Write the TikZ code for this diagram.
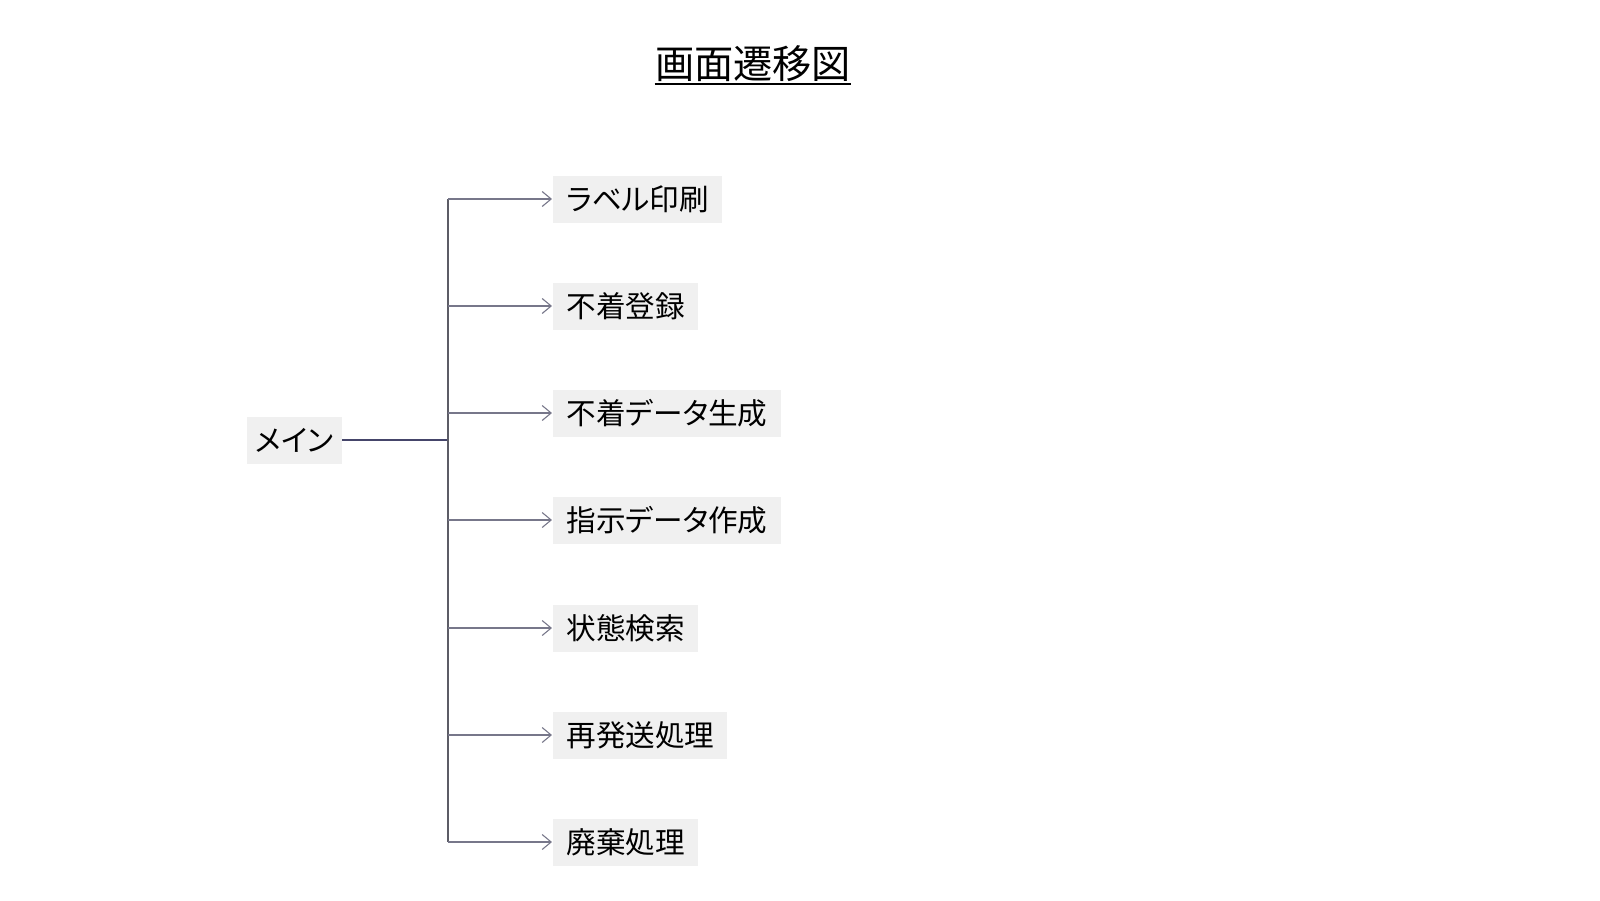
\documentclass[tikz,border=0pt]{standalone}
\usepackage{fontspec}
\setmainfont{Noto Sans CJK JP}[RawFeature=+palt]
\usetikzlibrary{arrows.meta}
\definecolor{boxgray}{HTML}{F0F0F0}
\definecolor{linkgray}{HTML}{77778A}
\definecolor{trunkgray}{HTML}{5C5C66}
\definecolor{mainline}{HTML}{45456A}
\begin{document}
\begin{tikzpicture}[x=0.5pt,y=-0.5pt,
  screen/.style={fill=boxgray, draw=none, inner xsep=6.5pt, inner ysep=0pt,
    minimum height=23.5pt, font=\fontsize{14.8pt}{16pt}\selectfont, text=black},
  link/.style={draw=linkgray, line width=0.55pt, -{Straight Barb[length=4.5pt,width=7.5pt]}},
  trunk/.style={draw=trunkgray, line width=0.85pt}]
\useasboundingbox (0,0) rectangle (1600,900);

% title
\node[font=\fontsize{19.6pt}{22pt}\selectfont, inner sep=0pt, anchor=base] (title) at (753,78) {画面遷移図};
\draw[line width=0.9pt] ([yshift=-3pt]title.base west) -- ([yshift=-3pt]title.base east);

% main screen
\node[screen, minimum width=47.5pt, inner xsep=4pt] (main) at (294.5,440) {メイン};

% sub screens
\node[screen, anchor=west] (s1) at (553,199) {ラベル印刷};
\node[screen, anchor=west] (s2) at (553,306) {不着登録};
\node[screen, anchor=west] (s3) at (553,413) {不着データ生成};
\node[screen, anchor=west] (s4) at (553,520) {指示データ作成};
\node[screen, anchor=west] (s5) at (553,628) {状態検索};
\node[screen, anchor=west] (s6) at (553,735) {再発送処理};
\node[screen, anchor=west] (s7) at (553,842) {廃棄処理};

% branching connectors
\coordinate (j) at (448,440);
\coordinate (top) at (448,199);
\coordinate (bot) at (448,842);
\draw[draw=mainline, line width=0.6pt] (main.east) -- (j);
\draw[trunk] (top) -- (bot);
\foreach \s in {s1,s2,s3,s4,s5,s6,s7}
  \draw[link] (top |- \s.west) -- ([xshift=-0.5pt]\s.west);
\end{tikzpicture}
\end{document}
